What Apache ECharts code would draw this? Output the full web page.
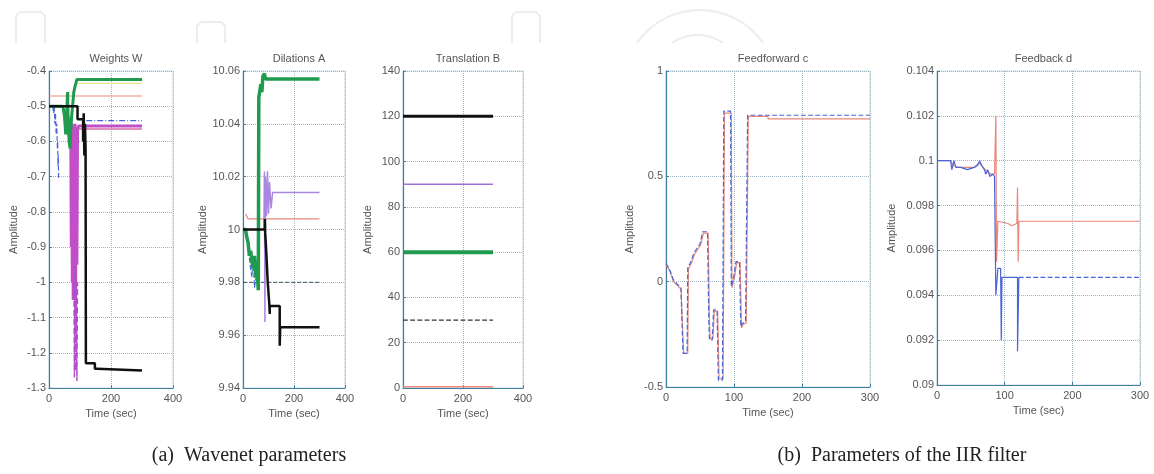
<!DOCTYPE html>
<html><head><meta charset="utf-8">
<script src="https://cdn.jsdelivr.net/npm/echarts@6/dist/echarts.min.js"></script>
<style>html,body{margin:0;padding:0;background:#fff}#c{width:1154px;height:474px}</style>
</head><body><div id="c"></div>
<script>
// ---------- Titles / captions ----------
const subTitles = ['Weights W', 'Dilations A', 'Translation B', 'Feedforward c', 'Feedback d'];
const captions = ['(a)  Wavenet parameters', '(b)  Parameters of the IIR filter'];

// ---------- (a) Weights W ----------
const W_salmon = [[0,-0.471],[300,-0.471]];
const W_yellow = [[88,-0.435],[300,-0.435]];
const W_blueWiggle = [[12,-0.5],[15,-0.52],[17,-0.5],[19,-0.55],[21,-0.52],[23,-0.58],[25,-0.55],[27,-0.62],[28,-0.6],[29,-0.67],[30,-0.64],[31,-0.71]];
const W_blueFinal = [[120,-0.541],[300,-0.541]];
const W_magenta = [[70,-0.53],[72,-0.9],[74,-0.55],[75,-1.0],[77,-0.56],[78,-1.05],[80,-0.6],[82,-1.0],[84,-0.55],[86,-1.03],[88,-0.6],[90,-0.95],[92,-0.57],[95,-0.556],[300,-0.556]];
const W_magentaDash = [[80,-0.9],[82,-1.27],[84,-0.95],[86,-1.25],[88,-1.0],[90,-1.28],[92,-1.0]];
const W_pink = [[95,-0.565],[300,-0.565]];
const W_green = [[0,-0.5],[45,-0.5],[50,-0.53],[54,-0.58],[57,-0.52],[60,-0.46],[62,-0.55],[65,-0.6],[68,-0.62],[70,-0.57],[73,-0.53],[76,-0.5],[80,-0.46],[85,-0.44],[90,-0.424],[300,-0.424]];
const W_black = [[0,-0.5],[92,-0.5],[92,-0.537],[110,-0.537],[110,-0.6],[112,-0.52],[114,-0.64],[116,-0.55],[118,-0.62],[119,-1.23],[148,-1.23],[148,-1.245],[155,-1.245],[155,-1.25],[300,-1.25]];

// ---------- (a) Dilations A ----------
const A_salmon = [[10,10.006],[20,10.004],[300,10.004]];
const A_blackDash = [[0,9.98],[300,9.98]];
const A_blueDash = [[10,10],[18,9.996],[24,9.99],[30,9.985],[35,9.982],[40,9.99],[45,9.978],[50,9.981],[55,9.986],[60,9.98]];
const A_purple = [[82,10.0],[84,10.022],[86,9.965],[88,10.02],[92,10.005],[96,10.022],[100,10.006],[104,10.018],[110,10.008],[116,10.014],[300,10.014]];
const A_green = [[0,10],[10,10],[15,9.997],[20,9.995],[25,9.99],[30,9.992],[35,9.988],[40,9.985],[45,9.99],[50,9.982],[55,9.985],[60,9.977],[62,10.05],[66,10.05],[70,10.055],[74,10.052],[78,10.058],[84,10.059],[88,10.057],[300,10.057]];
const A_black = [[0,10],[86,10],[86,10.004],[87,9.999],[92,9.99],[97,9.98],[103,9.972],[105,9.968],[105,9.971],[144,9.971],[144,9.956],[146,9.963],[300,9.963]];

// ---------- (a) Translation B ----------
const B_black = [[0,120],[300,120]];
const B_purple = [[0,90],[300,90]];
const B_green = [[0,60],[300,60]];
const B_blackDash = [[0,30],[300,30]];
const B_salmon = [[0,0.6],[300,0.6]];

// ---------- (b) Feedforward c ----------
const C_blue = [[0,0.087],[5,0.06],[11,0.008],[22,-0.03],[25,-0.34],[31,-0.34],[32,0.07],[36,0.09],[41,0.136],[46,0.16],[50,0.18],[54,0.237],[61,0.237],[63,-0.2],[64,-0.277],[68,-0.277],[70,-0.134],[75,-0.134],[77,-0.467],[83,-0.467],[85,0.81],[95,0.81],[96,-0.024],[100,0.03],[103,0.095],[108,0.095],[110,-0.214],[112,-0.2],[117,-0.19],[119,-0.19],[120,0.79],[300,0.79]];
const C_salmon = [[0,0.08],[5,0.055],[11,0.0],[22,-0.035],[26,-0.34],[32,-0.34],[33,0.06],[37,0.085],[42,0.13],[47,0.155],[51,0.175],[55,0.23],[62,0.23],[64,-0.2],[65,-0.27],[69,-0.27],[71,-0.14],[76,-0.14],[78,-0.46],[84,-0.46],[86,0.8],[96,0.8],[97,-0.03],[101,0.025],[104,0.09],[109,0.09],[111,-0.22],[113,-0.205],[118,-0.195],[120,-0.195],[121,0.785],[150,0.785],[150,0.773],[300,0.773]];

// ---------- (b) Feedback d ----------
const D_salmon = [[0,0.1],[20,0.1],[24,0.0998],[30,0.0997],[40,0.0997],[55,0.0997],[62,0.0999],[68,0.0997],[75,0.0995],[80,0.0994],[85,0.0994],[87,0.102],[88,0.0955],[90,0.0973],[105,0.0972],[110,0.0971],[118,0.0972],[119,0.0988],[120,0.0955],[121,0.0973],[300,0.0973]];
const D_blue = [[0,0.1],[20,0.1],[22,0.0996],[25,0.1],[28,0.0997],[35,0.0997],[45,0.0996],[55,0.0997],[60,0.0998],[63,0.1],[66,0.0998],[70,0.0996],[72,0.0994],[75,0.0996],[78,0.0993],[82,0.0994],[85,0.0993],[87,0.094],[90,0.0952],[94,0.0952],[95,0.092],[96,0.0948],[119,0.0948],[119,0.0915],[121,0.0948]];
const D_blueTail = [[121,0.0948],[300,0.0948]];

// ---------- axes ----------
const xMaxes = [400, 400, 400, 300, 300];
const xIntervals = [200, 200, 200, 100, 100];
const yMins = [-1.3, 9.94, 0, -0.5, 0.09];
const yMaxes = [-0.4, 10.06, 140, 1, 0.104];
const yIntervals = [0.1, 0.02, 20, 0.5, 0.002];

const grids = [
  {left:49, top:71, width:124, height:317},
  {left:243, top:71, width:102, height:317},
  {left:403, top:71, width:120, height:317},
  {left:666, top:71, width:204, height:316},
  {left:937, top:71, width:203, height:314}
];
const yNameGaps = [30, 31, 30, 31, 40];

const AX = '#3f7f9f';
const TXT = '#555';
const FONT = 'Liberation Sans, Arial, sans-serif';

const xAxis = grids.map((g, i) => ({
  type: 'value', gridIndex: i, min: 0, max: xMaxes[i], interval: xIntervals[i],
  name: 'Time (sec)', nameLocation: 'middle', nameGap: 18,
  nameTextStyle: {color: TXT, fontSize: 11, fontFamily: FONT},
  axisLine: {show: true, onZero: false, lineStyle: {color: AX, width: 1.2}},
  axisTick: {show: true, inside: true, length: 3, lineStyle: {color: AX}},
  axisLabel: {color: TXT, fontSize: 11, fontFamily: FONT, margin: 5},
  splitLine: {show: true, lineStyle: {type: 'dotted', color: '#9fb8c4', width: 1}}
}));
const yAxis = grids.map((g, i) => ({
  type: 'value', gridIndex: i, min: yMins[i], max: yMaxes[i], interval: yIntervals[i],
  name: 'Amplitude', nameLocation: 'middle', nameGap: yNameGaps[i],
  nameTextStyle: {color: TXT, fontSize: 11, fontFamily: FONT},
  axisLine: {show: true, onZero: false, lineStyle: {color: AX, width: 1.2}},
  axisTick: {show: true, inside: true, length: 3, lineStyle: {color: AX}},
  axisLabel: {color: TXT, fontSize: 11, fontFamily: FONT, margin: 3},
  splitLine: {show: true, lineStyle: {type: 'dotted', color: '#9fb8c4', width: 1}}
}));

function S(data, i, color, width, type, z) {
  return {type: 'line', xAxisIndex: i, yAxisIndex: i, data: data, showSymbol: false,
    symbol: 'none', animation: false, silent: true, z: z || 2,
    lineStyle: {color: color, width: width, type: type || 'solid'}};
}

const series = [
  S(W_salmon, 0, '#e8887c', 1.2),
  S(W_yellow, 0, '#e8e07a', 1),
  S(W_blueWiggle, 0, '#4a64d8', 1.2, 'dashed'),
  S(W_blueFinal, 0, '#4a64d8', 1.2, [6, 2, 1, 2]),
  S(W_magenta, 0, '#c24fc8', 3),
  S(W_magentaDash, 0, '#b050c8', 1.5, 'dashed'),
  S(W_pink, 0, '#d86aa8', 1.5),
  S(W_green, 0, '#1f9a4e', 3, 'solid', 3),
  S(W_black, 0, '#111111', 2.5, 'solid', 4),

  S(A_blackDash, 1, '#3a5a66', 1, 'dashed'),
  S(A_salmon, 1, '#e8887c', 1.2),
  S(A_blueDash, 1, '#4a64d8', 1.2, 'dashed'),
  S(A_purple, 1, '#a986e2', 1.5),
  S(A_green, 1, '#1f9a4e', 3.5, 'solid', 3),
  S(A_black, 1, '#111111', 2.5, 'solid', 4),

  S(B_salmon, 2, '#e8887c', 1.5),
  S(B_blackDash, 2, '#333333', 1.2, 'dashed'),
  S(B_green, 2, '#1f9a4e', 4),
  S(B_purple, 2, '#a070d8', 1.5),
  S(B_black, 2, '#111111', 3),

  S(C_salmon, 3, '#e8887c', 1.2),
  S(C_blue, 3, '#4a64d8', 1.2, 'dashed', 3),

  S(D_salmon, 4, '#e8887c', 1.2),
  S(D_blue, 4, '#4a64d8', 1.2, 'solid', 3),
  S(D_blueTail, 4, '#4a64d8', 1.2, 'dashed', 3)
];

const titleCenters = grids.map(g => g.left + g.width / 2);
const title = subTitles.map((t, i) => ({
  text: t, left: titleCenters[i], top: 48, textAlign: 'center',
  textStyle: {fontSize: 11, fontWeight: 'normal', color: TXT, fontFamily: FONT}
}));

const decoStyle = {stroke: '#ededed', lineWidth: 2, fill: null};
const graphic = [
  {type: 'polyline', shape: {points: [[16,43],[16,16],[20,12],[41,12],[45,16],[45,43]]}, style: decoStyle, silent: true},
  {type: 'polyline', shape: {points: [[197,43],[197,26],[201,22],[221,22],[225,26],[225,43]]}, style: decoStyle, silent: true},
  {type: 'polyline', shape: {points: [[512,43],[512,16],[516,12],[536,12],[540,16],[540,43]]}, style: decoStyle, silent: true},
  {type: 'arc', shape: {cx: 700, cy: 86.6, r: 76.6, startAngle: -2.536, endAngle: -0.606, clockwise: true}, style: decoStyle, silent: true},
  {type: 'arc', shape: {cx: 697.5, cy: 81, r: 46, startAngle: -2.158, endAngle: -0.984, clockwise: true}, style: decoStyle, silent: true},
  {type: 'text', position: [249, 446], style: {text: captions[0], font: '20px "Liberation Serif", serif', fill: '#222', textAlign: 'center'}, silent: true},
  {type: 'text', position: [902, 446], style: {text: captions[1], font: '20px "Liberation Serif", serif', fill: '#222', textAlign: 'center'}, silent: true}
];

const chart = echarts.init(document.getElementById('c'), null, {renderer: 'canvas'});
chart.setOption({
  animation: false,
  backgroundColor: '#fff',
  title: title,
  grid: grids.map(g => Object.assign({show: true, borderColor: '#c9d9e2', borderWidth: 1, backgroundColor: 'transparent'}, g)),
  xAxis: xAxis,
  yAxis: yAxis,
  series: series,
  graphic: graphic
});
</script>
</body></html>
